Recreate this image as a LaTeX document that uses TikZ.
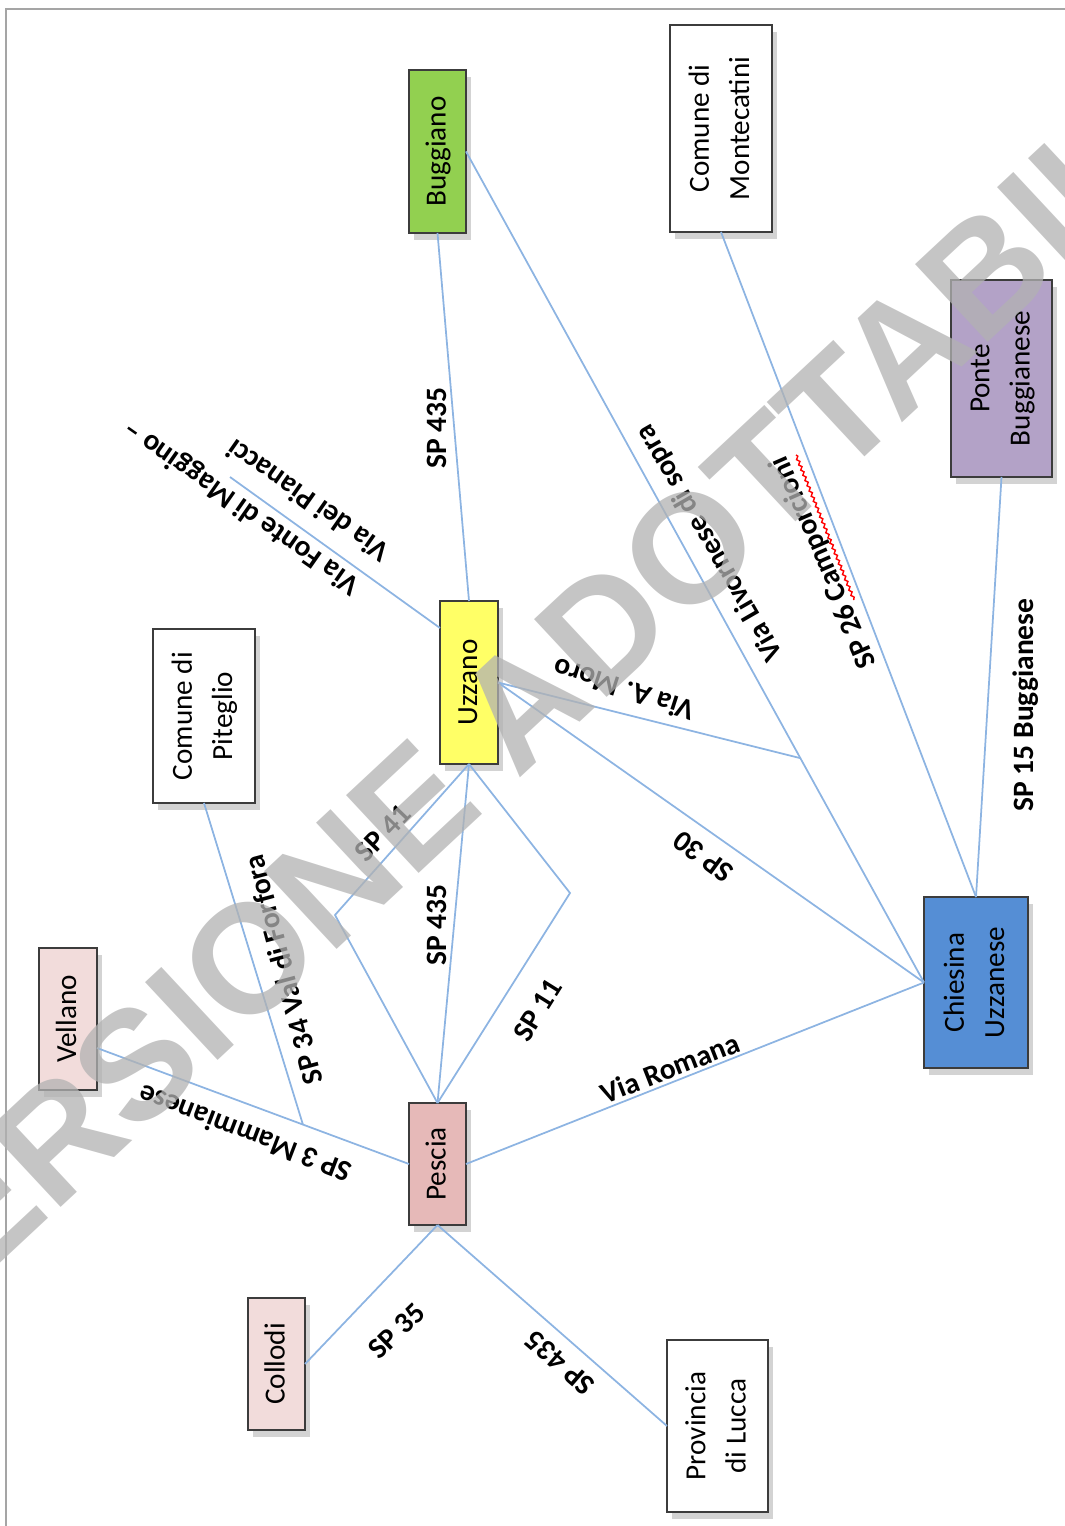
\documentclass[tikz,border=0pt]{standalone}
\usepackage{fontspec}
\setmainfont{Carlito}
\newfontfamily\filigranafont{Liberation Sans}
\usetikzlibrary{calc,shadows,decorations.pathmorphing}

\definecolor{azzurro}{RGB}{141,180,226}
\definecolor{verde}{RGB}{146,208,80}
\definecolor{giallo}{RGB}{255,255,102}
\definecolor{viola}{RGB}{179,162,199}
\definecolor{blu}{RGB}{85,142,213}
\definecolor{rosa}{RGB}{230,185,184}
\definecolor{rosachiaro}{RGB}{242,220,219}
\definecolor{bordo}{RGB}{60,60,60}
\definecolor{cornice}{RGB}{165,165,165}

\newcommand{\verticale}[1]{\rotatebox{90}{\begin{tabular}{@{}c@{}}#1\end{tabular}}}

\begin{document}
\begin{tikzpicture}[x=0.1mm, y=-0.1mm,
        comune/.style={draw=bordo, line width=0.6pt, inner sep=0pt, outer sep=0pt,
            font=\fontsize{8.3}{11.4}\selectfont,
            drop shadow={shadow xshift=0.5mm, shadow yshift=-0.7mm, opacity=0.35}},
        via/.style={draw=azzurro, line width=0.5pt},
        etichetta/.style={font=\bfseries\fontsize{8.4}{10}\selectfont, inner sep=0pt}]
        \useasboundingbox (0,0) rectangle (1065,1526);
        \draw [cornice, line width=0.7pt] (6,1526) -- (6,9) -- (1065,9);
        % comuni
        \node [comune, fill=verde, minimum width=5.7mm, minimum height=16.3mm] (buggiano) at (437.5,151.5) {\verticale{Buggiano}};
        \node [comune, fill=white, minimum width=10.2mm, minimum height=20.7mm] (montecatini) at (721,128.5) {\verticale{Comune di\\Montecatini}};
        \node [comune, fill=viola, minimum width=10.1mm, minimum height=19.7mm] (ponte) at (1001.5,378.5) {\verticale{Ponte\\Buggianese}};
        \node [comune, fill=giallo, minimum width=5.8mm, minimum height=16.3mm] (uzzano) at (469,682.5) {\verticale{Uzzano}};
        \node [comune, fill=white, minimum width=10.2mm, minimum height=17.4mm] (piteglio) at (204,716) {\verticale{Comune di\\Piteglio}};
        \node [comune, fill=rosachiaro, minimum width=5.8mm, minimum height=14.2mm] (vellano) at (68,1019) {\verticale{Vellano}};
        \node [comune, fill=rosa, minimum width=5.7mm, minimum height=12.2mm] (pescia) at (437.5,1164) {\verticale{Pescia}};
        \node [comune, fill=rosachiaro, minimum width=5.7mm, minimum height=13.2mm] (collodi) at (276.5,1364) {\verticale{Collodi}};
        \node [comune, fill=white, minimum width=10.1mm, minimum height=17.2mm] (lucca) at (717.5,1426) {\verticale{Provincia\\di Lucca}};
        \node [comune, fill=blu, minimum width=10.4mm, minimum height=17.1mm] (chiesina) at (976,982.5) {\verticale{Chiesina\\Uzzanese}};
        % punti di svolta e incroci
        \coordinate (pianacci) at (230,477);
        \coordinate (svolta41) at (335,915);
        \coordinate (svolta11) at (570,893);
        \coordinate (vellanoE) at ($(vellano.south east)+(0,-42)$);
        \coordinate (incrocio) at ($(buggiano.east)!0.73!(chiesina.west)$);
        \coordinate (forfora) at ($(vellanoE)!0.66!(pescia.west)$);
        % strade
        \draw [via] (buggiano.south) -- (uzzano.north);
        \draw [via] (buggiano.east) -- (chiesina.west);
        \draw [via] (uzzano.east) -- (incrocio);
        \draw [via] (uzzano.east) -- (chiesina.west);
        \draw [via] (montecatini.south) -- (chiesina.north);
        \draw [via] (ponte.south) -- (chiesina.north);
        \draw [via] ($(uzzano.north west)+(0,27)$) -- (pianacci);
        \draw [via] (uzzano.south) -- (svolta41) -- (pescia.north);
        \draw [via] (uzzano.south) -- (pescia.north);
        \draw [via] (uzzano.south) -- (svolta11) -- (pescia.north);
        \draw [via] (piteglio.south) -- (forfora);
        \draw [via] (vellanoE) -- (pescia.west);
        \draw [via] (pescia.east) -- (chiesina.west);
        \draw [via] (pescia.south) -- (collodi.east);
        \draw [via] (pescia.south) -- (lucca.west);
        % nomi delle strade
        \node [etichetta, rotate=90] (sp435n) at (437,428) {SP 435};
        \node [etichetta, rotate=145] (pianaccilab) at (308,501) {Via dei Pianacci};
        \node [etichetta, rotate=145] (maggino) at (242,507) {Via Fonte di Maggino –};
        \node [etichetta, rotate=120] (livornese) at (710,543) {Via Livornese di sopra};
        \node [etichetta, rotate=113.6] (sp26) at (824,562) {SP 26 Camporcioni};
        \draw [red, line width=0.4pt, decorate, decoration={snake, amplitude=0.35pt, segment length=1.6pt}] (796,455) -- (854,600);
        \node [etichetta, rotate=90] (sp15) at (1026,705) {SP 15 Buggianese};
        \node [etichetta, rotate=162] (moro) at (624,690) {Via A. Moro};
        \node [etichetta, rotate=143.7] (sp30) at (703,857) {SP 30};
        \node [etichetta, rotate=46] (sp41) at (383,833) {SP 41};
        \node [etichetta, rotate=90] (sp435s) at (437,925) {SP 435};
        \node [etichetta, rotate=58] (sp11) at (538,1010) {SP 11};
        \node [etichetta, rotate=105] (sp34) at (283,970) {SP 34 Val di Forfora};
        \node [etichetta, rotate=159] (sp3) at (245,1134) {SP 3 Mammianese};
        \node [etichetta, rotate=21.3] (romana) at (670,1068) {Via Romana};
        \node [etichetta, rotate=44] (sp35) at (397,1331) {SP 35};
        \node [etichetta, rotate=139] (sp435l) at (560,1363) {SP 435};
        % filigrana
        \node [font=\filigranafont\bfseries\fontsize{44}{44}\selectfont, text=black!30, text opacity=0.75, rotate=43] (filigrana) at (534,693) {VERSIONE ADOTTABILE};
    \end{tikzpicture}
\end{document}
